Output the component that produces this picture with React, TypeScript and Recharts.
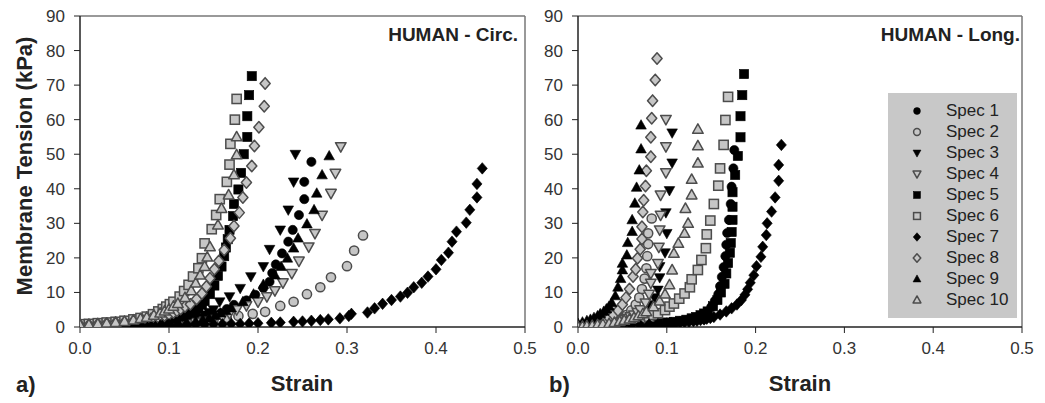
import React from "react";
import { ScatterChart, Scatter, XAxis, YAxis, ReferenceLine } from "recharts";

type Pair = [number, number];

const specNames = ["Spec 1", "Spec 2", "Spec 3", "Spec 4", "Spec 5", "Spec 6", "Spec 7", "Spec 8", "Spec 9", "Spec 10"];
const specShapes = ["circle", "circle", "down", "down", "square", "square", "diamond", "diamond", "up", "up"];
const specOpen = [false, true, false, true, false, true, false, true, false, true];

const strainTicks = [0, 0.1, 0.2, 0.3, 0.4, 0.5];
const tensionTicks = [0, 10, 20, 30, 40, 50, 60, 70, 80, 90];

// a) HUMAN - Circ.  [strain, tension kPa]
const circ1: Pair[] = [[0, 0.1], [0.01, 0.1], [0.02, 0.2], [0.03, 0.2], [0.04, 0.3], [0.05, 0.3], [0.06, 0.4], [0.07, 0.5], [0.08, 0.6], [0.09, 0.7], [0.1, 0.9], [0.11, 1.1], [0.12, 1.4], [0.13, 1.8], [0.138, 2.3], [0.145, 2.8], [0.152, 3.4], [0.158, 4], [0.165, 5.2], [0.173, 6.4], [0.187, 7.7], [0.197, 9.3], [0.206, 11.3], [0.213, 13.1], [0.216, 15.6], [0.22, 18.1], [0.227, 21.3], [0.234, 24.7], [0.239, 28.1], [0.246, 32.4], [0.252, 37], [0.252, 42], [0.26, 47.8]];
const circ2: Pair[] = [[0, 0.1], [0.01, 0.1], [0.02, 0.2], [0.03, 0.2], [0.04, 0.3], [0.05, 0.3], [0.06, 0.4], [0.07, 0.5], [0.08, 0.6], [0.09, 0.7], [0.1, 0.8], [0.11, 1], [0.12, 1.2], [0.13, 1.4], [0.14, 1.7], [0.15, 2], [0.165, 2.6], [0.178, 3.2], [0.194, 3.8], [0.208, 4.4], [0.225, 6.1], [0.24, 7.3], [0.255, 9.5], [0.27, 11.5], [0.282, 14.4], [0.3, 17.6], [0.308, 22.1], [0.318, 26.5]];
const circ3: Pair[] = [[0, 0.2], [0.01, 0.2], [0.02, 0.3], [0.03, 0.3], [0.04, 0.4], [0.05, 0.4], [0.06, 0.5], [0.07, 0.6], [0.08, 0.7], [0.09, 0.8], [0.1, 1], [0.11, 1.3], [0.118, 1.6], [0.125, 2], [0.133, 2.7], [0.14, 3.5], [0.145, 4.2], [0.15, 5], [0.157, 7.3], [0.168, 8.8], [0.18, 11.2], [0.192, 14.6], [0.206, 17.5], [0.213, 22.5], [0.225, 28.1], [0.234, 33.9], [0.24, 42], [0.242, 50]];
const circ4: Pair[] = [[0, 0.1], [0.01, 0.1], [0.02, 0.2], [0.03, 0.2], [0.04, 0.2], [0.05, 0.3], [0.06, 0.3], [0.07, 0.4], [0.08, 0.4], [0.09, 0.5], [0.1, 0.6], [0.11, 0.8], [0.12, 1], [0.13, 1.3], [0.14, 1.7], [0.15, 2.2], [0.16, 3], [0.168, 3.9], [0.176, 5], [0.187, 6.2], [0.2, 7.3], [0.21, 8.8], [0.219, 10.5], [0.228, 12.8], [0.238, 15.5], [0.246, 19.1], [0.257, 23.2], [0.264, 27.1], [0.272, 32.4], [0.282, 38.7], [0.287, 44.5], [0.293, 52.2]];
const circ5: Pair[] = [[0, 0.3], [0.01, 0.4], [0.02, 0.5], [0.03, 0.6], [0.04, 0.7], [0.05, 0.8], [0.06, 1], [0.07, 1.2], [0.08, 1.4], [0.09, 1.7], [0.1, 2], [0.108, 2.5], [0.115, 3], [0.12, 3.6], [0.125, 4.2], [0.13, 4.8], [0.133, 5.5], [0.137, 6.5], [0.14, 7.5], [0.146, 9.5], [0.151, 12], [0.155, 14.8], [0.159, 17.5], [0.162, 20.5], [0.164, 23], [0.166, 25.4], [0.168, 28.1], [0.172, 32.1], [0.173, 35.6], [0.178, 39.8], [0.181, 44.6], [0.184, 50], [0.188, 55], [0.188, 61], [0.19, 67.1], [0.193, 72.6]];
const circ6: Pair[] = [[0, 0.8], [0.01, 0.9], [0.02, 1.1], [0.03, 1.3], [0.04, 1.5], [0.05, 1.8], [0.06, 2.2], [0.068, 2.6], [0.075, 3], [0.082, 3.7], [0.088, 4.5], [0.093, 5.2], [0.097, 5.9], [0.101, 6.6], [0.105, 7.3], [0.112, 8.8], [0.117, 10.4], [0.122, 12.2], [0.127, 14.6], [0.133, 17], [0.137, 19.9], [0.14, 24.2], [0.148, 28.3], [0.153, 32.4], [0.157, 37], [0.165, 42], [0.168, 47], [0.169, 53], [0.174, 60], [0.176, 66]];
const circ7: Pair[] = [[0, 0], [0.01, 0.1], [0.02, 0.1], [0.03, 0.2], [0.04, 0.2], [0.05, 0.3], [0.06, 0.3], [0.07, 0.4], [0.08, 0.4], [0.09, 0.5], [0.1, 0.5], [0.11, 0.6], [0.12, 0.6], [0.13, 0.7], [0.14, 0.7], [0.15, 0.8], [0.16, 0.8], [0.17, 0.9], [0.18, 0.9], [0.19, 1], [0.2, 1.1], [0.215, 1.2], [0.225, 1.3], [0.24, 1.5], [0.25, 1.6], [0.26, 1.8], [0.27, 2], [0.279, 2.2], [0.292, 2.5], [0.302, 3.2], [0.305, 3.8], [0.323, 4.2], [0.331, 5.4], [0.34, 6.7], [0.35, 7.8], [0.36, 8.8], [0.368, 9.9], [0.375, 11.5], [0.384, 12.8], [0.391, 14.6], [0.4, 16.7], [0.406, 19.4], [0.414, 21.5], [0.418, 24.7], [0.423, 27.6], [0.434, 30.2], [0.438, 33.9], [0.446, 37.5], [0.446, 41.4], [0.452, 45.9]];
const circ8: Pair[] = [[0, 0.5], [0.01, 0.6], [0.02, 0.8], [0.03, 1], [0.04, 1.2], [0.05, 1.4], [0.06, 1.7], [0.07, 2], [0.08, 2.4], [0.088, 2.8], [0.095, 3.3], [0.1, 3.7], [0.105, 4.2], [0.109, 4.7], [0.113, 5.2], [0.118, 5.9], [0.124, 6.6], [0.131, 8.1], [0.137, 9.7], [0.142, 11.7], [0.146, 14.1], [0.151, 16.7], [0.156, 19.1], [0.162, 22.3], [0.169, 25.7], [0.173, 29.2], [0.179, 33.1], [0.183, 37.5], [0.187, 41.8], [0.193, 46.6], [0.196, 52.4], [0.201, 57.8], [0.207, 63.9], [0.208, 70.5]];
const circ9: Pair[] = [[0, 0.1], [0.01, 0.1], [0.02, 0.2], [0.03, 0.2], [0.04, 0.3], [0.05, 0.3], [0.06, 0.35], [0.07, 0.4], [0.08, 0.5], [0.09, 0.6], [0.1, 0.8], [0.11, 1], [0.12, 1.3], [0.13, 1.6], [0.138, 2.1], [0.145, 2.6], [0.152, 3.3], [0.158, 4], [0.164, 4.7], [0.17, 5.5], [0.183, 7.3], [0.195, 9.5], [0.206, 12.3], [0.219, 15], [0.226, 17.5], [0.233, 19.9], [0.24, 22.8], [0.245, 25.7], [0.255, 29.8], [0.263, 33.9], [0.266, 38.7], [0.272, 44], [0.28, 49.5]];
const circ10: Pair[] = [[0, 0.6], [0.01, 0.7], [0.02, 0.9], [0.03, 1.1], [0.04, 1.3], [0.05, 1.6], [0.06, 2], [0.068, 2.4], [0.075, 2.8], [0.083, 3.4], [0.09, 4], [0.095, 4.6], [0.1, 5.2], [0.105, 6], [0.11, 6.8], [0.118, 8.5], [0.125, 10.5], [0.13, 12.7], [0.135, 15], [0.14, 17.5], [0.143, 20.2], [0.146, 23.2], [0.155, 29.5], [0.159, 34.3], [0.167, 38.2], [0.173, 44], [0.176, 49.8], [0.176, 55]];

// b) HUMAN - Long.
const long1: Pair[] = [[0, 0.1], [0.01, 0.1], [0.02, 0.2], [0.03, 0.2], [0.04, 0.3], [0.05, 0.4], [0.06, 0.5], [0.07, 0.6], [0.08, 0.8], [0.09, 0.9], [0.1, 1.1], [0.108, 1.3], [0.115, 1.6], [0.122, 1.9], [0.128, 2.3], [0.133, 2.7], [0.138, 3.2], [0.142, 3.7], [0.145, 4.3], [0.15, 5.8], [0.154, 7.5], [0.158, 9.5], [0.16, 11.8], [0.162, 14.5], [0.164, 17.3], [0.166, 20.5], [0.167, 23.8], [0.168, 27.2], [0.17, 31], [0.172, 35.6], [0.173, 40.6], [0.175, 45.9], [0.176, 51.2]];
const long2: Pair[] = [[0, 0.1], [0.005, 0.2], [0.01, 0.3], [0.015, 0.4], [0.02, 0.6], [0.025, 0.8], [0.03, 1], [0.035, 1.3], [0.04, 1.6], [0.044, 2], [0.048, 2.4], [0.052, 2.9], [0.055, 3.5], [0.06, 4.8], [0.065, 6.5], [0.069, 8.5], [0.072, 11], [0.075, 14], [0.077, 17], [0.078, 20.5], [0.079, 24], [0.079, 27.1], [0.083, 31.4]];
const long3: Pair[] = [[0, 0.1], [0.005, 0.2], [0.01, 0.3], [0.015, 0.4], [0.02, 0.6], [0.026, 0.8], [0.032, 1], [0.037, 1.2], [0.042, 1.4], [0.047, 1.7], [0.052, 2], [0.057, 2.4], [0.062, 2.8], [0.066, 3.3], [0.07, 3.8], [0.076, 5], [0.082, 6.5], [0.086, 8.5], [0.09, 10.7], [0.092, 14.3], [0.092, 17.5], [0.098, 21.5], [0.1, 27.1], [0.099, 33.1], [0.103, 39.5], [0.106, 47.5], [0.106, 56.2]];
const long4: Pair[] = [[0, 0.2], [0.005, 0.3], [0.01, 0.3], [0.015, 0.4], [0.02, 0.5], [0.025, 0.7], [0.03, 0.9], [0.035, 1.1], [0.04, 1.4], [0.045, 1.7], [0.05, 2.1], [0.055, 2.5], [0.059, 3], [0.063, 3.5], [0.067, 4.2], [0.07, 5], [0.076, 7], [0.08, 9.5], [0.082, 12.7], [0.082, 15.5], [0.09, 18.4], [0.091, 23.1], [0.092, 28.1], [0.093, 32.4], [0.093, 38.2], [0.099, 44.7], [0.099, 52.2], [0.099, 60.1]];
const long5: Pair[] = [[0, 0.1], [0.01, 0.1], [0.02, 0.2], [0.03, 0.3], [0.04, 0.4], [0.05, 0.5], [0.06, 0.6], [0.07, 0.7], [0.08, 0.9], [0.09, 1.1], [0.1, 1.3], [0.108, 1.5], [0.115, 1.8], [0.122, 2.1], [0.128, 2.5], [0.133, 2.9], [0.138, 3.4], [0.142, 3.9], [0.146, 4.5], [0.152, 6], [0.157, 7.8], [0.161, 10], [0.165, 12.5], [0.167, 15.5], [0.169, 18.5], [0.171, 21.5], [0.172, 24.3], [0.173, 27.5], [0.174, 31], [0.174, 34.8], [0.174, 39], [0.177, 44], [0.18, 49.5], [0.183, 54.9], [0.183, 61], [0.185, 67.1], [0.187, 73.2]];
const long6: Pair[] = [[0, 0.1], [0.005, 0.1], [0.01, 0.2], [0.015, 0.3], [0.02, 0.4], [0.025, 0.5], [0.03, 0.6], [0.035, 0.7], [0.04, 0.9], [0.045, 1], [0.05, 1.2], [0.055, 1.4], [0.06, 1.7], [0.065, 2], [0.07, 2.3], [0.075, 2.6], [0.08, 3], [0.085, 3.5], [0.09, 4], [0.098, 4.9], [0.103, 5.9], [0.108, 6.8], [0.114, 8.2], [0.12, 9.7], [0.126, 11.5], [0.128, 13.8], [0.135, 16.5], [0.139, 19.4], [0.144, 22.8], [0.145, 26.8], [0.149, 30.8], [0.153, 35.6], [0.158, 40.9], [0.16, 45.9], [0.164, 52.7], [0.166, 59.9], [0.169, 66.6]];
const long7: Pair[] = [[0, 0.1], [0.01, 0.1], [0.02, 0.2], [0.03, 0.2], [0.04, 0.3], [0.05, 0.4], [0.06, 0.5], [0.07, 0.6], [0.08, 0.7], [0.09, 0.8], [0.1, 1], [0.105, 1.1], [0.11, 1.2], [0.115, 1.3], [0.12, 1.4], [0.125, 1.5], [0.13, 1.7], [0.134, 1.8], [0.138, 2], [0.142, 2.2], [0.145, 2.4], [0.149, 2.6], [0.153, 2.9], [0.16, 3.6], [0.167, 4.5], [0.173, 5.4], [0.179, 6.5], [0.184, 7.8], [0.188, 9.3], [0.191, 10.9], [0.194, 12.8], [0.198, 15], [0.201, 17.6], [0.206, 20.3], [0.208, 23.2], [0.212, 26.6], [0.213, 30], [0.218, 33.4], [0.222, 37.5], [0.226, 42.3], [0.226, 46.9], [0.229, 52.7]];
const long8: Pair[] = [[0, 0.2], [0.005, 0.4], [0.01, 0.6], [0.015, 0.9], [0.02, 1.2], [0.025, 1.6], [0.03, 2], [0.035, 2.7], [0.04, 3.5], [0.045, 4.8], [0.05, 6.5], [0.054, 8.5], [0.058, 11], [0.062, 14.6], [0.065, 16.7], [0.067, 19.9], [0.07, 22.5], [0.072, 25.5], [0.072, 29], [0.073, 33.3], [0.074, 36.7], [0.076, 40.8], [0.077, 45.2], [0.082, 49.3], [0.082, 54.9], [0.083, 60.4], [0.084, 65.5], [0.087, 71.5], [0.089, 77.7]];
const long9: Pair[] = [[0, 1], [0.005, 1.4], [0.01, 1.8], [0.014, 2.2], [0.018, 2.7], [0.022, 3.2], [0.025, 3.8], [0.029, 4.5], [0.032, 5.2], [0.035, 6], [0.038, 7], [0.042, 9], [0.045, 11.5], [0.048, 14], [0.05, 16.5], [0.05, 18.4], [0.055, 20.8], [0.056, 24.4], [0.061, 27.6], [0.061, 31], [0.064, 35.8], [0.066, 40.4], [0.069, 45.4], [0.071, 51.5], [0.071, 58.4]];
const long10: Pair[] = [[0, 0.1], [0.005, 0.2], [0.01, 0.3], [0.016, 0.4], [0.022, 0.6], [0.028, 0.8], [0.035, 1], [0.041, 1.3], [0.047, 1.6], [0.052, 1.9], [0.058, 2.3], [0.063, 2.7], [0.068, 3.2], [0.073, 3.8], [0.077, 4.4], [0.085, 5.8], [0.092, 7.5], [0.098, 9.5], [0.103, 12.2], [0.106, 16.5], [0.108, 21.3], [0.113, 24.2], [0.12, 27.1], [0.124, 30], [0.121, 34.3], [0.128, 38.2], [0.128, 42.7], [0.135, 47.4], [0.135, 52.4], [0.135, 57.2]];

const circSeries = [circ1, circ2, circ3, circ4, circ5, circ6, circ7, circ8, circ9, circ10];
const longSeries = [long1, long2, long3, long4, long5, long6, long7, long8, long9, long10];

const FONT = "'Liberation Sans', Arial, sans-serif";

function Marker({ cx, cy, kind, open, r }: { cx: number; cy: number; kind: string; open: boolean; r: number }) {
  const fill = open ? "#c6c6c6" : "#000";
  const stroke = open ? "#4c4c4c" : "#000";
  const sw = open ? 1.5 : 0.6;
  if (cx == null || cy == null) return null;
  if (kind === "circle") return <circle cx={cx} cy={cy} r={r} fill={fill} stroke={stroke} strokeWidth={sw} />;
  if (kind === "square") return <rect x={cx - r} y={cy - r} width={2 * r} height={2 * r} fill={fill} stroke={stroke} strokeWidth={sw} />;
  let pts: number[][];
  if (kind === "diamond") pts = [[cx, cy - r * 1.25], [cx + r * 1.1, cy], [cx, cy + r * 1.25], [cx - r * 1.1, cy]];
  else if (kind === "up") pts = [[cx, cy - r * 1.2], [cx + r * 1.15, cy + r * 0.85], [cx - r * 1.15, cy + r * 0.85]];
  else pts = [[cx, cy + r * 1.2], [cx + r * 1.15, cy - r * 0.85], [cx - r * 1.15, cy - r * 0.85]];
  return <polygon points={pts.map((p) => p.join(",")).join(" ")} fill={fill} stroke={stroke} strokeWidth={sw} strokeLinejoin="round" />;
}

const tickText = { fontSize: 17, fill: "#333", fontFamily: FONT };

function Panel({ series, width, yWidth, right }: { series: Pair[][]; width: number; yWidth: number; right: number }) {
  return (
    <ScatterChart width={width} height={403} margin={{ top: 16, right, bottom: 36, left: 0 }}>
      <XAxis
        type="number"
        dataKey="x"
        domain={[0, 0.5]}
        ticks={strainTicks}
        tickFormatter={(v: number) => v.toFixed(1)}
        height={40}
        tickSize={6}
        tickMargin={9}
        tick={tickText}
        tickLine={{ stroke: "#222" }}
        axisLine={{ stroke: "#222", strokeWidth: 1.5 }}
        allowDataOverflow
      />
      <YAxis
        type="number"
        dataKey="y"
        domain={[0, 90]}
        ticks={tensionTicks}
        width={yWidth}
        tickSize={6}
        tickMargin={9}
        tick={tickText}
        tickLine={{ stroke: "#222" }}
        axisLine={{ stroke: "#222", strokeWidth: 1.5 }}
        allowDataOverflow
      />
      <ReferenceLine y={90} stroke="#777" strokeWidth={1.5} />
      <ReferenceLine x={0.5} stroke="#777" strokeWidth={1.5} />
      {series.map((pts, i) => (
        <Scatter
          key={specNames[i]}
          name={specNames[i]}
          data={pts.map(([x, y]) => ({ x, y }))}
          isAnimationActive={false}
          shape={(p: any) => <Marker cx={p.cx} cy={p.cy} kind={specShapes[i]} open={specOpen[i]} r={4.6} />}
        />
      ))}
    </ScatterChart>
  );
}

const bold = { fontFamily: FONT, fontWeight: 700, color: "#222", position: "absolute" as const, whiteSpace: "nowrap" as const };

export default function App() {
  return (
    <div style={{ position: "absolute", left: 0, top: 0, width: 1045, height: 403, background: "#fff", overflow: "hidden" }}>
      <div style={{ position: "absolute", left: 0, top: 0 }}>
        <Panel series={circSeries} width={548} yWidth={80} right={23} />
      </div>
      <div style={{ position: "absolute", left: 530, top: 0 }}>
        <Panel series={longSeries} width={515} yWidth={48} right={23} />
      </div>

      <div style={{ ...bold, fontSize: 22, left: 25, top: 166, transform: "translate(-50%, -50%) rotate(-90deg)" }}>
        Membrane Tension (kPa)
      </div>
      <div style={{ ...bold, fontSize: 22, left: 302, top: 384, transform: "translate(-50%, -50%)" }}>Strain</div>
      <div style={{ ...bold, fontSize: 22, left: 800, top: 384, transform: "translate(-50%, -50%)" }}>Strain</div>
      <div style={{ ...bold, fontSize: 22, left: 16, top: 372 }}>a)</div>
      <div style={{ ...bold, fontSize: 22, left: 549, top: 372 }}>b)</div>
      <div style={{ ...bold, fontSize: 19, right: 1045 - 518, top: 24 }}>HUMAN - Circ.</div>
      <div style={{ ...bold, fontSize: 19, right: 1045 - 1020, top: 24 }}>HUMAN - Long.</div>

      <div style={{ position: "absolute", left: 888, top: 93, width: 129, height: 225, background: "#c8c8c8" }}>
        {specNames.map((name, i) => (
          <div key={name} style={{ position: "absolute", left: 0, top: 7 + i * 21, height: 21, display: "flex", alignItems: "center" }}>
            <svg width={58} height={21} style={{ display: "block" }}>
              <Marker cx={29} cy={11} kind={specShapes[i]} open={specOpen[i]} r={3.4} />
            </svg>
            <span style={{ fontFamily: FONT, fontSize: 17, color: "#222" }}>{name}</span>
          </div>
        ))}
      </div>
    </div>
  );
}
